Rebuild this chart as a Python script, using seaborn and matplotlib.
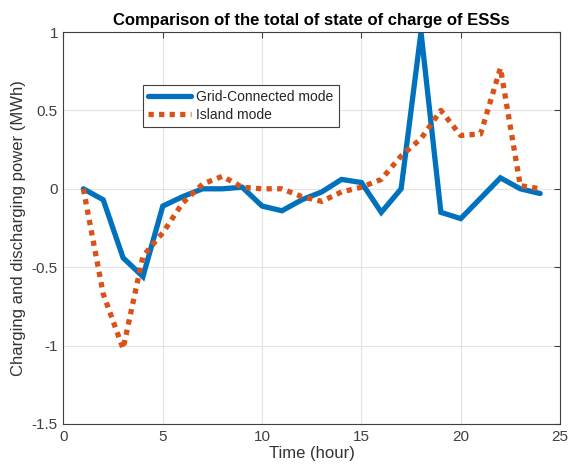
import matplotlib
matplotlib.use("Agg")
import matplotlib.pyplot as plt
import seaborn as sns
import pandas as pd

hours = list(range(1, 25))
grid_connected = [0, -0.07, -0.44, -0.56, -0.11, -0.05, 0, 0, 0.01, -0.11, -0.14, -0.07,
                  -0.02, 0.06, 0.04, -0.15, 0, 1.0, -0.15, -0.19, -0.06, 0.07, 0, -0.03]
island = [0, -0.67, -1.02, -0.43, -0.28, -0.09, 0.03, 0.08, 0.01, 0, 0, -0.05,
          -0.08, -0.02, 0.01, 0.06, 0.21, 0.32, 0.50, 0.34, 0.35, 0.77, 0.02, 0]
series_names = ["Grid-Connected mode", "Island mode"]
x_ticks = [0, 5, 10, 15, 20, 25]
y_ticks = [-1.5, -1, -0.5, 0, 0.5, 1]

sns.set_theme(style="white")
plt.rcParams["font.family"] = ["Liberation Sans", "DejaVu Sans"]
plt.rcParams["axes.unicode_minus"] = False

df = pd.DataFrame({
    "hour": hours * 2,
    "value": grid_connected + island,
    "series": [series_names[0]] * len(hours) + [series_names[1]] * len(hours),
})

fig = plt.figure(figsize=(5.7, 4.73), dpi=100)
ax = fig.add_axes([0.1114, 0.1036, 0.8711, 0.8287])

colors = {series_names[0]: "#0072BD", series_names[1]: "#D95319"}
styles = {series_names[0]: "-", series_names[1]: (0, (1, 1))}
for name in series_names:
    sub = df[df["series"] == name]
    sns.lineplot(data=sub, x="hour", y="value", ax=ax, color=colors[name],
                 linewidth=3.8, linestyle=styles[name], label=name,
                 dash_capstyle="butt", solid_joinstyle="miter")

ax.set_xlim(0, 25)
ax.set_ylim(-1.5, 1)
ax.set_xticks(x_ticks)
ax.set_yticks(y_ticks)
ax.set_xticklabels([str(v) for v in x_ticks])
ax.set_yticklabels(["-1.5", "-1", "-0.5", "0", "0.5", "1"])
ax.grid(True, color="#e3e3e3", linewidth=0.8)
ax.set_axisbelow(True)
for sp in ax.spines.values():
    sp.set_color("#404040")
    sp.set_linewidth(0.8)
    sp.set_visible(True)
ax.tick_params(direction="in", length=4, width=0.8, colors="#404040",
               labelsize=11, top=True, right=True, labeltop=False, labelright=False,
               pad=4)
ax.set_xlabel("Time (hour)", fontsize=12, color="#333333", labelpad=2)
ax.set_ylabel("Charging and discharging power (MWh)", fontsize=12, color="#333333", labelpad=4)
ax.set_title("Comparison of the total of state of charge of ESSs", fontsize=12,
             fontweight="bold", color="black", pad=5)

leg = ax.legend(loc="upper left", bbox_to_anchor=(143 / 570, 1 - 85 / 473),
                bbox_transform=fig.transFigure, fontsize=10, frameon=True,
                fancybox=False, framealpha=1, edgecolor="#404040",
                handlelength=3.1, borderpad=0.35, labelspacing=0.3,
                handletextpad=0.4, borderaxespad=0)
leg.get_frame().set_linewidth(0.8)

fig.savefig("out.png", dpi=100)
